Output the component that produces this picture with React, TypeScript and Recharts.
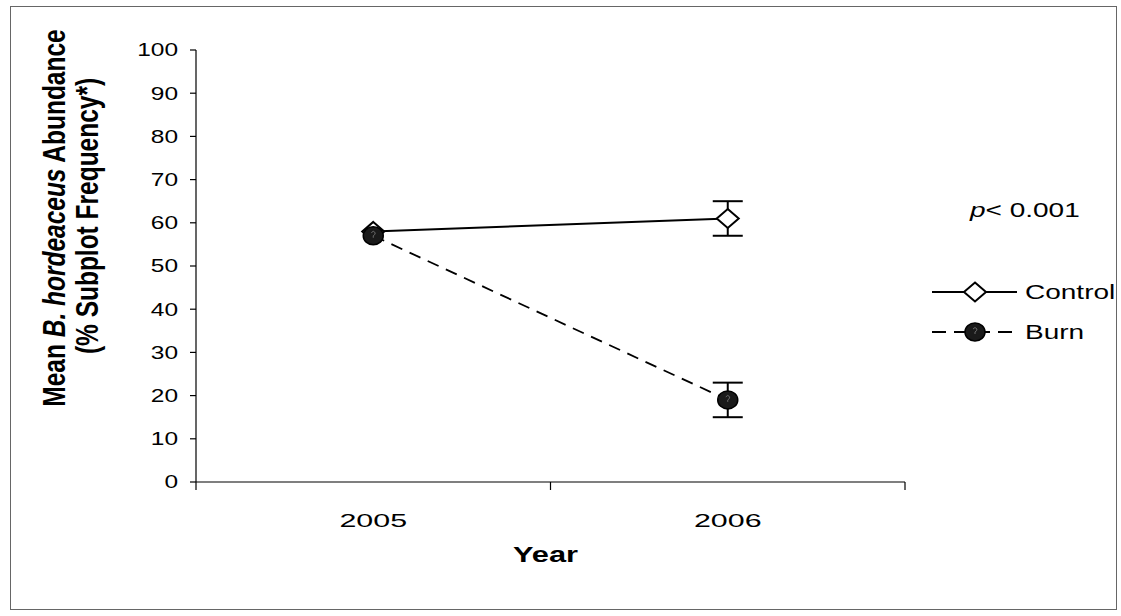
import React from 'react';
import { LineChart, Line, XAxis, YAxis, ErrorBar } from 'recharts';

// Mean abundance (% subplot frequency) by year and treatment
const years = ['2005', '2006'];
const controlMean = [58, 61];
const controlErr = [null, 4];
const burnMean = [57, 19];
const burnErr = [null, 4];
const yTicks = [0, 10, 20, 30, 40, 50, 60, 70, 80, 90, 100];
const seriesNames = ['Control', 'Burn'];

const data = years.map((year, i) => ({
  year,
  pos: i + 0.5,
  control: controlMean[i],
  controlErr: controlErr[i],
  burn: burnMean[i],
  burnErr: burnErr[i],
}));

const W = 1121;
const H = 616;
const SX = 1.4; // horizontal stretch applied to the lettering
const FONT = '"Liberation Sans", Arial, Helvetica, sans-serif';

type WideProps = {
  x: number;
  y: number;
  size: number;
  anchor?: 'start' | 'middle' | 'end';
  bold?: boolean;
  rotate?: number;
  dy?: string;
  sx?: number;
  children: React.ReactNode;
};

const WideText = ({ x, y, size, anchor = 'start', bold = false, rotate = 0, dy, sx = SX, children }: WideProps) => (
  <text
    transform={`translate(${x},${y}) scale(${sx},1)${rotate ? ` rotate(${rotate})` : ''}`}
    x={0}
    y={0}
    dy={dy}
    fontSize={size}
    fontFamily={FONT}
    fontWeight={bold ? 700 : 400}
    textAnchor={anchor}
    fill="#000"
  >
    {children}
  </text>
);

const YTick = (props: any) => {
  const { x, y, payload } = props;
  return (
    <WideText x={x} y={y} size={17.5} anchor="end" dy="0.36em">
      {payload.value}
    </WideText>
  );
};

const XTick = (props: any) => {
  const { x, y, payload } = props;
  const v = payload.value as number;
  if (Number.isInteger(v)) {
    return <line x1={x} x2={x} y1={y} y2={y + 8} stroke="#000" strokeWidth={1.2} />;
  }
  return (
    <WideText x={x} y={y + 45} size={19} sx={1.6} anchor="middle">
      {years[Math.floor(v)]}
    </WideText>
  );
};

const XTitle = (props: any) => {
  const { viewBox } = props;
  return (
    <WideText x={viewBox.x + viewBox.width / 2 - 5} y={viewBox.y + 80} size={22} anchor="middle" bold>
      Year
    </WideText>
  );
};

const YTitle = () => (
  <g>
    <WideText x={65} y={218} size={24.5} sx={1.28} anchor="middle" bold rotate={-90}>
      <tspan>Mean </tspan>
      <tspan fontStyle="italic">B. hordeaceus</tspan>
      <tspan> Abundance</tspan>
    </WideText>
    <WideText x={98} y={216} size={24.5} sx={1.28} anchor="middle" bold rotate={-90}>
      (% Subplot Frequency*)
    </WideText>
  </g>
);

const Diamond = ({ cx, cy }: { cx: number; cy: number }) => (
  <path
    d={`M${cx},${cy - 9.5} L${cx + 11},${cy} L${cx},${cy + 9.5} L${cx - 11},${cy} Z`}
    fill="#fff"
    stroke="#000"
    strokeWidth={2}
  />
);

const Disc = ({ cx, cy }: { cx: number; cy: number }) => (
  <g>
    <ellipse cx={cx} cy={cy} rx={10} ry={9} fill="#1a1a1a" stroke="#000" strokeWidth={1.5} />
    <path
      d={`M${cx - 2},${cy - 3} q2,-3 4,0 q0,2 -2,3 l0,2`}
      fill="none"
      stroke="#6a6a6a"
      strokeWidth={1}
    />
  </g>
);

const Overlay = () => (
  <svg width={W} height={H} style={{ position: 'absolute', left: 0, top: 0 }}>
    <rect x={10.5} y={6.5} width={1106} height={603} fill="none" stroke="#666" strokeWidth={1} />
    <YTitle />
    <WideText x={970} y={217} size={20}>
      <tspan fontStyle="italic">p</tspan>
      <tspan>{'< 0.001'}</tspan>
    </WideText>
    <line x1={932} x2={1017} y1={292} y2={292} stroke="#000" strokeWidth={2} />
    <Diamond cx={975} cy={292} />
    <WideText x={1025} y={292} size={20} dy="0.36em">
      {seriesNames[0]}
    </WideText>
    <line x1={932} x2={1017} y1={332} y2={332} stroke="#000" strokeWidth={2} strokeDasharray="14 8" />
    <Disc cx={975} cy={332} />
    <WideText x={1025} y={332} size={20} dy="0.36em">
      {seriesNames[1]}
    </WideText>
  </svg>
);

export default function App() {
  return (
    <div style={{ position: 'absolute', left: 0, top: 0, width: W, height: H, background: '#fff' }}>
      <LineChart width={W} height={H} data={data} margin={{ top: 50, right: 216, bottom: 74, left: 136 }}>
        <XAxis
          type="number"
          dataKey="pos"
          domain={[0, 2]}
          ticks={[0, 0.5, 1, 1.5, 2]}
          interval={0}
          tickLine={false}
          tickSize={0}
          tickMargin={0}
          tick={<XTick />}
          height={60}
          stroke="#000"
          strokeWidth={1.2}
          label={<XTitle />}
        />
        <YAxis
          type="number"
          domain={[0, 100]}
          ticks={yTicks}
          interval={0}
          width={60}
          tickSize={6}
          tickMargin={12}
          tick={<YTick />}
          stroke="#000"
          strokeWidth={1.2}
        />
        <Line
          dataKey="control"
          name={seriesNames[0]}
          type="linear"
          stroke="#000"
          strokeWidth={2}
          isAnimationActive={false}
          activeDot={false}
          dot={(p: any) => <Diamond key={`c${p.index}`} cx={p.cx} cy={p.cy} />}
        >
          <ErrorBar dataKey="controlErr" width={15} stroke="#000" strokeWidth={2} direction="y" />
        </Line>
        <Line
          dataKey="burn"
          name={seriesNames[1]}
          type="linear"
          stroke="#000"
          strokeWidth={1.8}
          strokeDasharray="12 8"
          isAnimationActive={false}
          activeDot={false}
          dot={(p: any) => <Disc key={`b${p.index}`} cx={p.cx} cy={p.cy} />}
        >
          <ErrorBar dataKey="burnErr" width={15} stroke="#000" strokeWidth={2} direction="y" />
        </Line>
      </LineChart>
      <Overlay />
    </div>
  );
}
